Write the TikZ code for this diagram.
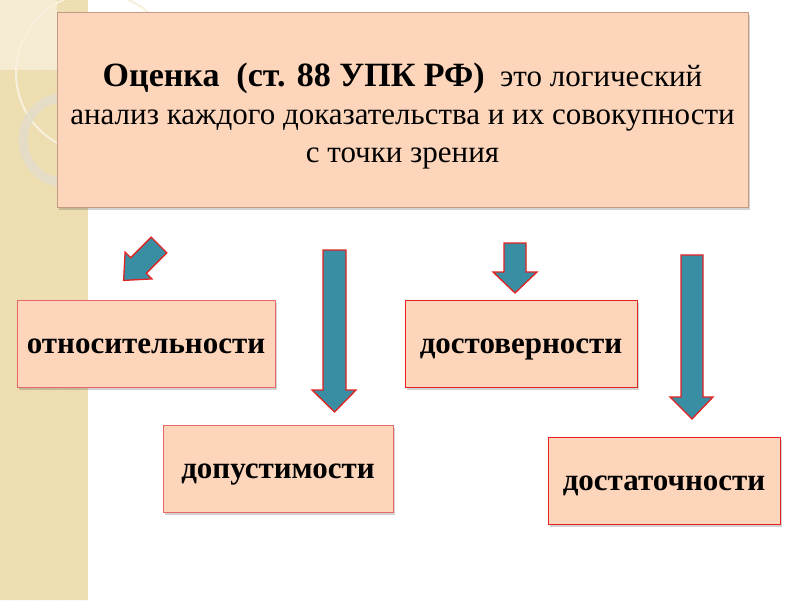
\documentclass[tikz,border=0pt]{standalone}
\usepackage{fontspec}
\setmainfont{Liberation Serif}
\usepackage{tikz}
\usetikzlibrary{shadows, patterns}

\definecolor{peach}{HTML}{FDD5BA}
\definecolor{mainline}{HTML}{C39A84}
\definecolor{pinkline}{HTML}{E66868}
\definecolor{redline}{HTML}{E32222}
\definecolor{arrowfill}{HTML}{3A8EA4}
\definecolor{stripe}{HTML}{EFE0B3}
\definecolor{stripedot}{HTML}{E8D7A8}
\definecolor{paleblock}{HTML}{F4EBD2}
\definecolor{paleline}{HTML}{F7F0DC}
\definecolor{ringcol}{HTML}{E2DCCB}

\tikzset{
  shade/.style={drop shadow={shadow xshift=2pt, shadow yshift=-2.5pt, opacity=0.25, fill=black!70}},
  mainbox/.style={draw=mainline, fill=peach, line width=0.8pt, shade, minimum width=691pt, minimum height=195pt, align=center, font=\fontsize{31}{38}\selectfont},
  termbox/.style={draw=pinkline, fill=peach, line width=1pt, shade, minimum height=87pt, text height=24pt, text depth=5pt, font=\bfseries\fontsize{31}{34}\selectfont},
  blockarrow/.style={draw=redline, fill=arrowfill, line width=1.3pt, line join=miter}
}

\begin{document}
\begin{tikzpicture}[x=1pt, y=-1pt]
\useasboundingbox (0,0) rectangle (800,600);
% Background stripe
\fill[white] (0,0) rectangle (800,600);
\fill[stripe] (0,0) rectangle (88,600);
\fill[pattern=crosshatch dots, pattern color=stripedot] (0,0) rectangle (88,600);
\fill[paleblock] (0,0) rectangle (57,70);
\draw[paleline, line width=2pt] (96,73) circle (80);
\draw[ringcol, line width=9pt, opacity=0.8] (66,140) circle (43);
% Main box
\node[mainbox] (eval) at (402.5,109.5) {\rule{0pt}{36pt}{\bfseries\fontsize{34}{38}\selectfont Оценка\ \ (ст. 88 УПК РФ)}\ \ это логический\\анализ каждого доказательства и их совокупности\\с точки зрения};
% Criteria
\node[termbox, minimum width=258pt] (rel) at (146,343.5) {относительности};
\node[termbox, minimum width=230pt] (adm) at (278,468.5) {допустимости};
\node[termbox, draw=redline, minimum width=232pt] (rely) at (521,343.5) {достоверности};
\node[termbox, draw=redline, minimum width=232pt] (suff) at (664,481) {достаточности};
% Arrows
\draw[blockarrow] (166.8,252.8) -- (151.2,237.2) -- (130.7,257.7) -- (125.1,252.1) -- (123.6,280.4) -- (151.9,278.9) -- (146.3,273.3) -- cycle;
\draw[blockarrow] (323,250) -- (346,250) -- (346,390) -- (356,390) -- (334.5,412) -- (312,390) -- (323,390) -- cycle;
\draw[blockarrow] (504,243) -- (526,243) -- (526,272) -- (537,272) -- (515,293) -- (493,272) -- (504,272) -- cycle;
\draw[blockarrow] (681,255) -- (703,255) -- (703,397) -- (713,397) -- (692,419) -- (670,397) -- (681,397) -- cycle;
\end{tikzpicture}
\end{document}
